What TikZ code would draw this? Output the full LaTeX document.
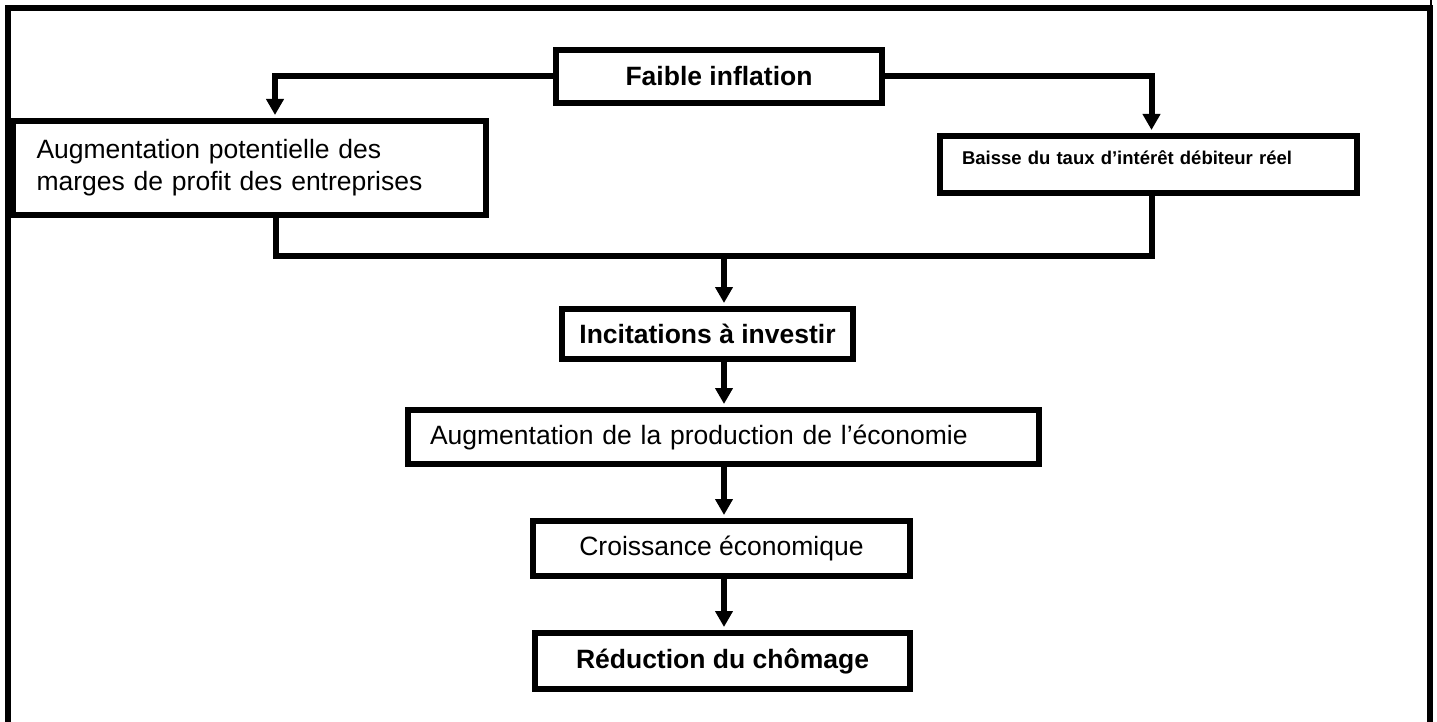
\documentclass[tikz,border=0pt]{standalone}
\usepackage{fontspec}
\setmainfont{Liberation Sans}
\usetikzlibrary{arrows.meta,calc}
\begin{document}
\begin{tikzpicture}[x=1pt,y=-1pt,
  box/.style={draw,line width=6pt,inner sep=0pt,font=\fontsize{26.5}{32}\selectfont},
  boldbox/.style={box,font=\fontsize{26.5}{32}\selectfont\bfseries},
  conn/.style={line width=6pt},
  arr/.style={conn,-{Triangle[width=17pt,length=16pt]},shorten >=3pt},
  frameline/.style={line width=6pt},
]
\useasboundingbox (0,0) rectangle (1437,722);
% outer frame
\draw[frameline] (8,722) -- (8,8) -- (1429.5,8) -- (1429.5,722);
\draw[line width=2pt] (1430.5,0) -- (1430.5,6);
% boxes
\node[boldbox,minimum width=326pt,minimum height=53pt] (fi) at (719,76.5) {Faible inflation};
\node[box,minimum height=94pt,text width=426pt,inner xsep=23.5pt,align=left] (lb) at (249.5,168)
  {Augmentation potentielle des\\marges de profit des entreprises};
\node[box,minimum height=57pt,text width=373pt,inner xsep=22pt,align=left,
  font=\fontsize{18.5}{22}\selectfont\bfseries,text height=13pt,text depth=13pt] (rb) at (1148.5,164.5)
  {Baisse du taux d’intérêt débiteur réel};
\node[boldbox,minimum width=291pt,minimum height=50pt] (inc) at (707.5,334) {Incitations à investir};
\node[box,minimum height=54pt,text width=587pt,inner xsep=22pt,align=left] (aug) at (723.5,437)
  {Augmentation de la production de l’économie};
\node[box,minimum width=377pt,minimum height=55pt] (cro) at (721.5,548.5) {Croissance économique};
\node[boldbox,minimum width=375pt,minimum height=56pt] (red) at (722.5,661) {Réduction du chômage};
% connectors
\coordinate (j) at (724,256);
\draw[arr] (fi.west) -| ([xshift=25.5pt]lb.north);
\draw[arr] (fi.east) -| ([xshift=3pt]rb.north);
\draw[conn] ([xshift=26.5pt]lb.south) |- (j) -| ([xshift=3pt]rb.south);
\draw[arr] (j) -- (j |- inc.north);
\draw[arr] (j |- inc.south) -- (j |- aug.north);
\draw[arr] (j |- aug.south) -- (j |- cro.north);
\draw[arr] (j |- cro.south) -- (j |- red.north);
\end{tikzpicture}
\end{document}
